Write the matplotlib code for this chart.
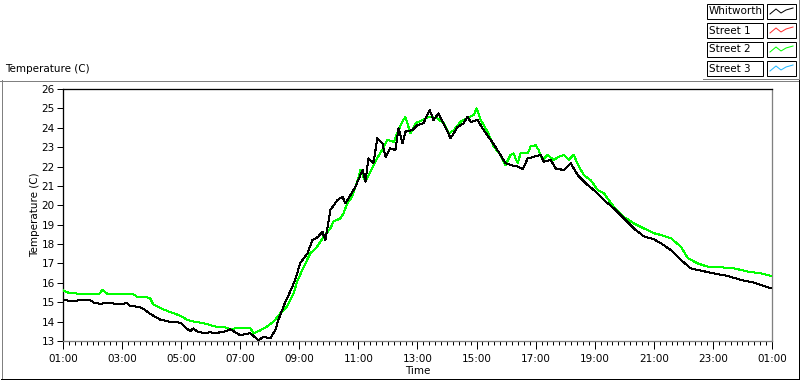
"""Recreate the Whitworth / street temperature chart (LabVIEW style)."""

import matplotlib

matplotlib.use("Agg")
import matplotlib.pyplot as plt
from matplotlib.lines import Line2D
from matplotlib.patches import Rectangle
from matplotlib.ticker import FixedLocator, FuncFormatter, MultipleLocator

# ---- data (hours of day, 1.0 = 01:00, 25.0 = 01:00 next day) ----
whitworth_hours = [
    1.00, 1.24, 1.58, 1.92, 2.08, 2.25, 2.59, 2.93, 3.17, 3.27, 3.61, 3.78,
    3.95, 4.12, 4.29, 4.46, 4.63, 4.97, 5.14, 5.31, 5.41, 5.54, 5.64, 5.81,
    5.98, 6.15, 6.32, 6.49, 6.66, 7.00, 7.34, 7.61, 7.78, 8.02, 8.19, 8.29,
    8.42, 8.53, 8.69, 8.86, 9.03, 9.27, 9.44, 9.64, 9.78, 9.88, 10.05, 10.29,
    10.46, 10.56, 10.73, 10.90, 11.14, 11.24, 11.34, 11.51, 11.64, 11.81,
    11.92, 12.08, 12.25, 12.36, 12.49, 12.59, 12.83, 13.00, 13.20, 13.41,
    13.54, 13.71, 13.88, 14.12, 14.36, 14.56, 14.69, 14.80, 15.03, 15.24,
    15.58, 15.81, 15.98, 16.15, 16.39, 16.56, 16.73, 16.93, 17.17, 17.27,
    17.51, 17.68, 17.95, 18.19, 18.42, 18.76, 19.03, 19.31, 19.64, 19.98,
    20.32, 20.66, 21.00, 21.24, 21.58, 21.92, 22.25, 22.59, 23.03, 23.51,
    23.95, 24.39, 24.86, 25.00,
]
whitworth_temp = [
    15.15, 15.05, 15.10, 15.10, 14.95, 14.93, 14.95, 14.90, 14.95, 14.82,
    14.75, 14.60, 14.40, 14.25, 14.10, 14.05, 13.98, 13.95, 13.70, 13.50,
    13.65, 13.50, 13.45, 13.40, 13.45, 13.40, 13.45, 13.50, 13.60, 13.30,
    13.40, 13.05, 13.20, 13.15, 13.57, 14.08, 14.60, 15.03, 15.55, 16.15,
    17.02, 17.50, 18.20, 18.38, 18.64, 18.20, 19.76, 20.27, 20.44, 20.10,
    20.53, 20.96, 21.82, 21.22, 22.42, 22.18, 23.46, 23.20, 22.50, 22.94,
    22.85, 23.97, 23.20, 23.80, 23.88, 24.14, 24.23, 24.92, 24.40, 24.75,
    24.23, 23.46, 24.05, 24.23, 24.57, 24.30, 24.40, 23.88, 23.15, 22.60,
    22.17, 22.08, 22.00, 21.86, 22.42, 22.50, 22.60, 22.25, 22.34, 21.90,
    21.82, 22.17, 21.56, 21.05, 20.70, 20.27, 19.85, 19.33, 18.81, 18.40,
    18.25, 18.04, 17.69, 17.18, 16.75, 16.63, 16.49, 16.35, 16.15, 16.01,
    15.77, 15.72,
]

street2_hours = [
    1.00, 1.17, 1.47, 2.25, 2.32, 2.49, 2.93, 3.37, 3.51, 3.85, 3.95, 4.05,
    4.29, 4.53, 4.80, 4.97, 5.20, 5.47, 5.64, 5.81, 6.15, 6.49, 6.66, 6.90,
    7.34, 7.45, 7.68, 7.90, 8.13, 8.36, 8.58, 8.81, 8.92, 9.15, 9.37, 9.60,
    9.82, 10.05, 10.16, 10.39, 10.50, 10.62, 10.79, 10.96, 11.07, 11.24,
    11.41, 11.63, 11.80, 11.97, 12.20, 12.31, 12.48, 12.59, 12.76, 12.93,
    13.16, 13.38, 13.67, 13.89, 14.06, 14.23, 14.46, 14.68, 14.91, 15.00,
    15.14, 15.37, 15.58, 15.81, 15.98, 16.15, 16.25, 16.39, 16.49, 16.73,
    16.83, 17.00, 17.10, 17.24, 17.41, 17.61, 17.78, 17.95, 18.12, 18.29,
    18.46, 18.63, 18.86, 19.10, 19.31, 19.64, 19.98, 20.32, 20.66, 21.00,
    21.24, 21.58, 21.92, 22.15, 22.49, 22.83, 23.27, 23.71, 24.19, 24.63,
    25.00,
]
street2_temp = [
    15.62, 15.50, 15.45, 15.45, 15.65, 15.45, 15.42, 15.42, 15.28, 15.25,
    15.20, 14.90, 14.70, 14.55, 14.40, 14.30, 14.10, 13.98, 13.95, 13.90,
    13.75, 13.70, 13.60, 13.67, 13.67, 13.40, 13.55, 13.74, 14.00, 14.44,
    14.77, 15.46, 16.06, 16.83, 17.52, 17.86, 18.38, 18.81, 19.16, 19.33,
    19.59, 20.10, 20.45, 21.22, 21.82, 21.22, 21.73, 22.42, 22.85, 23.37,
    23.28, 23.71, 24.30, 24.57, 23.71, 24.23, 24.40, 24.57, 24.49, 24.23,
    23.71, 23.88, 24.31, 24.49, 24.66, 25.00, 24.40, 23.80, 23.03, 22.60,
    22.08, 22.60, 22.68, 22.17, 22.68, 22.68, 23.03, 23.11, 22.85, 22.34,
    22.60, 22.34, 22.50, 22.60, 22.34, 22.60, 22.00, 21.56, 21.30, 20.79,
    20.62, 19.93, 19.41, 19.07, 18.81, 18.56, 18.47, 18.30, 17.86, 17.27,
    17.00, 16.83, 16.80, 16.75, 16.58, 16.49, 16.35,
]

# Street 1 and Street 3 appear in the legend but hold no samples
street1_hours, street1_temp = [], []
street3_hours, street3_temp = [], []

series_names = ["Whitworth", "Street 1", "Street 2", "Street 3"]
series_colors = ["#000000", "#ff3030", "#00ff00", "#20b8ff"]
hour_ticks = list(range(1, 26, 2))
temp_ticks = list(range(13, 27))

W, H = 800, 380
FONT = 7.5
GRAY = "#808080"
PX = 0.72  # one pixel in points at 100 dpi


def fx(px):
    return px / W


def fy(py):
    return 1 - py / H


def hline(fig, x0, x1, y, color):
    fig.add_artist(Line2D([fx(x0), fx(x1)], [fy(y), fy(y)], color=color,
                          lw=PX, antialiased=False))


def vline(fig, x, y0, y1, color):
    fig.add_artist(Line2D([fx(x), fx(x)], [fy(y0), fy(y1)], color=color,
                          lw=PX, antialiased=False))


def main() -> None:
    plt.rcParams["font.family"] = ["DejaVu Sans"]
    plt.rcParams["font.size"] = FONT

    fig = plt.figure(figsize=(8, 3.8), dpi=100)
    fig.patch.set_facecolor("white")

    # outer panel frame (3D look: gray top/left, black bottom/right)
    hline(fig, 0, 799, 80.5, GRAY)
    vline(fig, 1.5, 80, 379, GRAY)
    hline(fig, 1, 799, 378.5, "black")
    vline(fig, 798.5, 80, 379, "black")

    fig.text(fx(5), fy(72), "Temperature (C)", fontsize=FONT, ha="left",
             va="baseline")

    ax = fig.add_axes([fx(63), fy(341), fx(772) - fx(63), fy(89) - fy(341)])
    data = [
        (whitworth_hours, whitworth_temp),
        (street1_hours, street1_temp),
        (street2_hours, street2_temp),
        (street3_hours, street3_temp),
    ]
    zorders = [4, 2, 3, 1]
    for (hours, temps), color, z in zip(data, series_colors, zorders):
        ax.plot(hours, temps, color=color, lw=PX, zorder=z,
                antialiased=False)

    ax.set_xlim(1, 25)
    ax.set_ylim(13, 26)
    ax.xaxis.set_major_locator(FixedLocator(hour_ticks))
    ax.xaxis.set_minor_locator(MultipleLocator(0.2))
    ax.xaxis.set_major_formatter(
        FuncFormatter(lambda v, _p: f"{int(round(v)) % 24:02d}:00"))
    ax.yaxis.set_major_locator(FixedLocator(temp_ticks))

    ax.tick_params(axis="both", which="both", direction="out", colors="black",
                   labelsize=FONT, width=PX)
    ax.tick_params(axis="y", which="major", length=4, pad=2)
    ax.tick_params(axis="x", which="major", length=6, pad=3)
    ax.tick_params(axis="x", which="minor", length=3)

    for side in ("top", "left"):
        ax.spines[side].set_color("black")
    for side in ("right", "bottom"):
        ax.spines[side].set_color(GRAY)
    for spine in ax.spines.values():
        spine.set_linewidth(PX * 1.3)

    ax.set_ylabel("Temperature (C)", fontsize=FONT, labelpad=1)
    ax.set_xlabel("Time", fontsize=FONT, labelpad=2)

    # legend block, top right
    hline(fig, 703, 799, 78.5, GRAY)
    vline(fig, 798.5, 0, 78, GRAY)
    row_tops = [4, 23, 42, 61]
    for name, color, top in zip(series_names, series_colors, row_tops):
        fig.add_artist(Rectangle((fx(707), fy(top + 15)), fx(763) - fx(707),
                                 fy(top) - fy(top + 15), facecolor="white",
                                 edgecolor="black", lw=PX))
        fig.add_artist(Rectangle((fx(767), fy(top + 15)), fx(796) - fx(767),
                                 fy(top) - fy(top + 15), facecolor="white",
                                 edgecolor="black", lw=PX))
        fig.text(fx(709), fy(top + 7.5), name, fontsize=FONT, ha="left",
                 va="center")
        zig_x = [770, 776, 781, 786, 793]
        zig_y = [top + 10, top + 5, top + 9, top + 6, top + 4]
        fig.add_artist(Line2D([fx(v) for v in zig_x], [fy(v) for v in zig_y],
                              color=color, lw=PX))

    fig.savefig("out.png", dpi=100, facecolor="white")
    plt.close(fig)


if __name__ == "__main__":
    main()
